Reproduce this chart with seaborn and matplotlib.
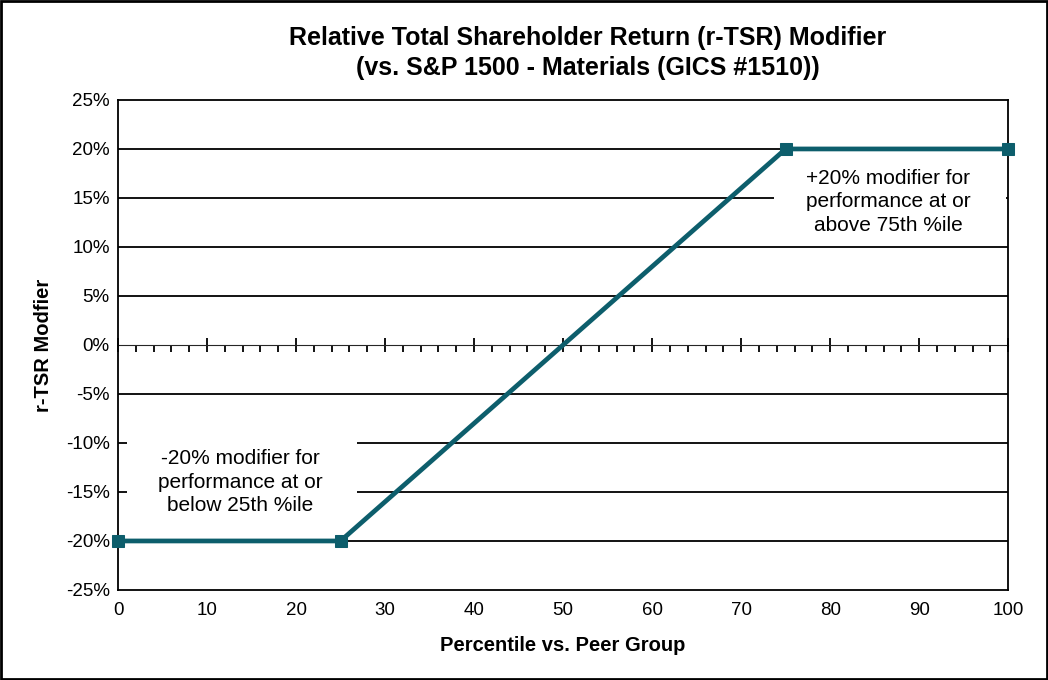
import matplotlib
matplotlib.use('Agg')
import matplotlib.pyplot as plt
import matplotlib.patches as mpatches
from matplotlib.ticker import MultipleLocator, FuncFormatter
import seaborn as sns
import pandas as pd

# data
percentile = [0, 25, 75, 100]
modifier = [-20, -20, 20, 20]

LINE_COLOR = '#0D5E6C'

sns.set_style('white')
plt.rcParams['font.family'] = ['Liberation Sans', 'DejaVu Sans']
plt.rcParams['text.color'] = 'black'
plt.rcParams['axes.labelcolor'] = 'black'

df = pd.DataFrame({'pct': percentile, 'mod': modifier})

fig = plt.figure(figsize=(10.48, 6.8), dpi=100)
ax = fig.add_axes([0.1126, 0.1324, 0.8494, 0.7206])

# gridlines every 5%
for yv in range(-20, 25, 5):
    if yv != 0:
        ax.axhline(yv, color='black', linewidth=1.3, zorder=1)

sns.lineplot(data=df, x='pct', y='mod', ax=ax, color=LINE_COLOR, linewidth=3.4,
             marker='s', markersize=8, markeredgecolor=LINE_COLOR, zorder=4,
             clip_on=False)

ax.set_xlim(0, 100)
ax.set_ylim(-25, 25)
ax.xaxis.set_major_locator(MultipleLocator(10))
ax.yaxis.set_major_locator(MultipleLocator(5))
ax.yaxis.set_major_formatter(FuncFormatter(lambda v, p: f'{v:.0f}%'))
ax.tick_params(axis='both', length=0, labelsize=13.5, colors='black')
ax.tick_params(axis='x', pad=9)
ax.tick_params(axis='y', pad=6)
for s in ax.spines.values():
    s.set_color('black')
    s.set_linewidth(1.3)

# zero axis with ticks
zero_ax = ax.secondary_xaxis(0.5)
zero_ax.xaxis.set_major_locator(MultipleLocator(10))
zero_ax.xaxis.set_minor_locator(MultipleLocator(2))
zero_ax.tick_params(which='major', direction='inout', length=10, width=1.3, color='black')
zero_ax.tick_params(which='minor', direction='in', length=5, width=1.3, color='black')
zero_ax.set_xticklabels([])
zero_ax.spines['bottom'].set_linewidth(1.6)
zero_ax.spines['bottom'].set_color('black')

ax.set_xlabel('Percentile vs. Peer Group', fontsize=14.5, fontweight='bold', labelpad=12)
ax.set_ylabel('r-TSR Modfier', fontsize=14.5, fontweight='bold', labelpad=9)

fig.suptitle('Relative Total Shareholder Return (r-TSR) Modifier\n'
             '(vs. S&P 1500 - Materials (GICS #1510))',
             x=0.561, y=0.962, fontsize=18, fontweight='bold', linespacing=1.3)

# white label boxes hiding the gridlines
ax.add_patch(mpatches.Rectangle((1.0, -17.5), 25.9, 10.3, facecolor='white',
                                edgecolor='none', zorder=2))
ax.add_patch(mpatches.Rectangle((73.7, 11.2), 26.0, 7.5, facecolor='white',
                                edgecolor='none', zorder=2))
ax.text(13.7, -14.0, '-20% modifier for\nperformance at or\nbelow 25th %ile',
        ha='center', va='center', fontsize=15, zorder=3, linespacing=1.32)
ax.text(86.5, 14.6, '+20% modifier for\nperformance at or\nabove 75th %ile',
        ha='center', va='center', fontsize=15, zorder=3, linespacing=1.32)

fig.patches.append(mpatches.Rectangle((0.001, 0.0015), 0.998, 0.997, transform=fig.transFigure,
                                      fill=False, edgecolor='black', linewidth=2))

fig.savefig('out.png', dpi=100)
